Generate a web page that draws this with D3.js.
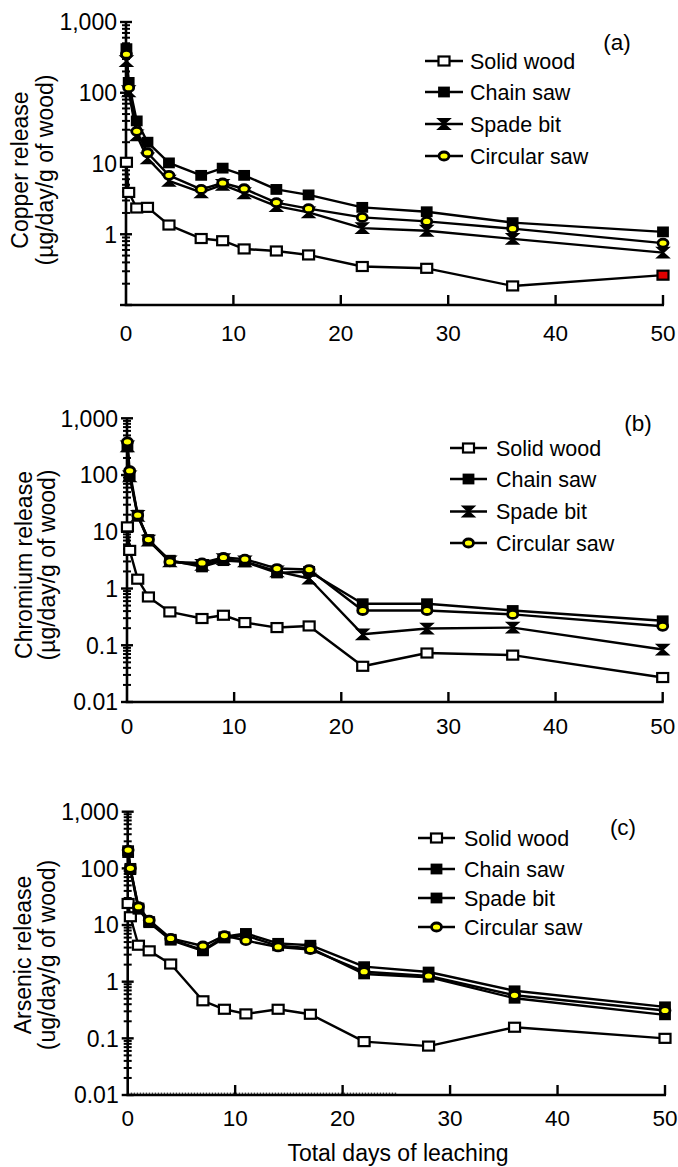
<!DOCTYPE html>
<html>
<head>
<meta charset="utf-8">
<script src="https://cdn.jsdelivr.net/npm/d3@7"></script>
<style>
  html, body { margin: 0; padding: 0; background: #fff; }
  svg { display: block; font-family: Arial, "Liberation Sans", sans-serif; }
</style>
</head>
<body>
<svg id="chart" width="678" height="1167"></svg>
<script>
// ---------- DATA ----------
const days = [0.04, 0.25, 1, 2, 4, 7, 9, 11, 14, 17, 22, 28, 36, 50];
const seriesNames = ["Solid wood", "Chain saw", "Spade bit", "Circular saw"];
const xTickValues = [0, 10, 20, 30, 40, 50];

// (a) Copper
const copperSolid    = [10.4, 3.9, 2.35, 2.4, 1.35, 0.87, 0.81, 0.62, 0.58, 0.51, 0.35, 0.33, 0.186, 0.264];
const copperChain    = [420, 140, 40, 20, 10.2, 6.8, 8.6, 6.8, 4.3, 3.6, 2.4, 2.08, 1.46, 1.08];
const copperSpade    = [280, 105, 25, 11.8, 5.7, 3.9, 5.0, 3.8, 2.5, 2.04, 1.22, 1.12, 0.86, 0.55];
const copperCircular = [350, 118, 28.5, 14.2, 6.8, 4.3, 5.3, 4.4, 2.8, 2.3, 1.73, 1.52, 1.2, 0.75];

// (b) Chromium
const chromSolid    = [12.2, 4.7, 1.46, 0.71, 0.387, 0.296, 0.338, 0.251, 0.205, 0.219, 0.0426, 0.073, 0.067, 0.027];
const chromChain    = [314, 100, 19.6, 7.3, 3.15, 2.4, 3.1, 2.95, 1.88, 2.0, 0.54, 0.54, 0.41, 0.27];
const chromSpade    = [320, 95, 19, 7.0, 3.0, 2.6, 3.3, 3.0, 2.0, 1.5, 0.156, 0.197, 0.205, 0.084];
const chromCircular = [385, 119, 19.6, 7.3, 2.94, 2.83, 3.52, 3.29, 2.25, 2.16, 0.41, 0.41, 0.35, 0.216];

// (c) Arsenic
const arsSolid    = [24, 14, 4.4, 3.5, 2.05, 0.46, 0.326, 0.27, 0.326, 0.266, 0.0875, 0.073, 0.157, 0.1];
const arsChain    = [205, 100, 20, 11.5, 5.6, 3.6, 6.2, 7.1, 4.75, 4.4, 1.84, 1.48, 0.69, 0.36];
const arsSpade    = [190, 95, 19, 11, 5.4, 3.5, 5.9, 6.5, 4.3, 3.9, 1.37, 1.2, 0.51, 0.26];
const arsCircular = [210, 100, 21, 12.2, 5.8, 4.26, 6.5, 5.3, 4.1, 3.7, 1.5, 1.26, 0.575, 0.31];

const yTicksA = [1, 10, 100, 1000];
const yTicksBC = [0.01, 0.1, 1, 10, 100, 1000];
const yTitlesA = ["Copper release", "(µg/day/g of wood)"];
const yTitlesB = ["Chromium release", "(µg/day/g of wood)"];
const yTitlesC = ["Arsenic release", "(ug/day/g of wood)"];
const panelLabels = ["(a)", "(b)", "(c)"];
const xTitle = "Total days of leaching";

// ---------- DRAW ----------
const svg = d3.select("#chart");
const fmt = d => d >= 1000 ? d3.format(",")(d) : String(d);

function marker(g, type, x, y, fill) {
  if (type === "openSquare") {
    g.append("rect").attr("x", x - 5.5).attr("y", y - 4.5).attr("width", 11).attr("height", 9)
      .attr("fill", fill || "#fff").attr("stroke", "#000").attr("stroke-width", 2.2);
  } else if (type === "square") {
    g.append("rect").attr("x", x - 5).attr("y", y - 4.5).attr("width", 10).attr("height", 9)
      .attr("fill", "#000").attr("stroke", "#000").attr("stroke-width", 1.8);
  } else if (type === "hourglass") {
    g.append("path").attr("d", `M${x-5.5},${y-5} H${x+5.5} L${x-5.5},${y+5} H${x+5.5} Z`)
      .attr("fill", "#000").attr("stroke", "#000").attr("stroke-width", 1.8).attr("stroke-linejoin", "miter");
  } else if (type === "circle") {
    g.append("ellipse").attr("cx", x).attr("cy", y).attr("rx", 5).attr("ry", 4)
      .attr("fill", "#ffff00").attr("stroke", "#000").attr("stroke-width", 2.8);
  }
}

function panel(cfg) {
  const g = svg.append("g");
  const x = d3.scaleLinear().domain([0, 50]).range([cfg.x0, cfg.x1]);
  const y = d3.scaleLog().domain(cfg.yDomain).range([cfg.yBottom, cfg.yTop]);

  g.append("line").attr("x1", cfg.x0).attr("x2", cfg.x0).attr("y1", cfg.yTop).attr("y2", cfg.yBottom)
    .attr("stroke", "#000").attr("stroke-width", 2.6);
  g.append("line").attr("x1", cfg.x0 - 1.3).attr("x2", cfg.x1 + 1).attr("y1", cfg.yBottom).attr("y2", cfg.yBottom)
    .attr("stroke", "#000").attr("stroke-width", 2.6);
  if (cfg.dotted) {
    g.append("line").attr("x1", cfg.x0).attr("x2", cfg.x0 + 270).attr("y1", cfg.yBottom - 1.8).attr("y2", cfg.yBottom - 1.8)
      .attr("stroke", "#000").attr("stroke-width", 1).attr("stroke-dasharray", "1.5,1.5");
  }

  const lo = Math.log10(cfg.yDomain[0]), hi = Math.log10(cfg.yDomain[1]);
  for (let e = Math.round(lo); e <= Math.round(hi); e++) {
    const v = Math.pow(10, e);
    g.append("line").attr("x1", cfg.x0 - 6).attr("x2", cfg.x0 + 6).attr("y1", y(v)).attr("y2", y(v))
      .attr("stroke", "#000").attr("stroke-width", 2.4);
    if (e < Math.round(hi)) {
      for (let k = 2; k <= 9; k++) {
        const mv = k * v;
        g.append("line").attr("x1", cfg.x0 - 4).attr("x2", cfg.x0 + 4).attr("y1", y(mv)).attr("y2", y(mv))
          .attr("stroke", "#000").attr("stroke-width", 2);
      }
    }
  }
  g.selectAll(".ylab").data(cfg.yTicks).enter().append("text")
    .attr("x", cfg.x0 - 9).attr("y", d => y(d)).attr("dy", "0.36em")
    .attr("text-anchor", "end").attr("font-size", 23).text(fmt);

  xTickValues.filter(d => d > 0).forEach(d => {
    g.append("line").attr("x1", x(d)).attr("x2", x(d)).attr("y1", cfg.yBottom).attr("y2", cfg.yBottom - 10)
      .attr("stroke", "#000").attr("stroke-width", 2.4);
  });
  g.selectAll(".xlab").data(xTickValues).enter().append("text")
    .attr("x", d => x(d)).attr("y", cfg.yBottom + cfg.xLabOff).attr("dy", "0.36em")
    .attr("text-anchor", "middle").attr("font-size", 22.5).text(d => d);

  cfg.yTitle.forEach((t, i) => {
    const cx = cfg.titleX[i];
    g.append("text").attr("transform", `translate(${cx},${cfg.titleY}) rotate(-90)`)
      .attr("dy", "0.36em").attr("text-anchor", "middle").attr("font-size", 23).text(t);
  });

  const types = cfg.types;
  const line = d3.line().x((d, i) => x(days[i])).y(d => y(d));
  cfg.series.forEach(s => {
    g.append("path").datum(s).attr("d", line).attr("fill", "none")
      .attr("stroke", "#000").attr("stroke-width", 2.4).attr("stroke-linejoin", "round");
  });
  cfg.series.forEach((s, si) => {
    s.forEach((v, i) => {
      let fill = null;
      if (cfg.redLast && si === 0 && i === s.length - 1) fill = "#e00000";
      marker(g, types[si], x(days[i]), y(v), fill);
    });
  });

  const L = cfg.legend;
  seriesNames.forEach((name, i) => {
    const ly = L.y[i];
    g.append("line").attr("x1", L.x1).attr("x2", L.x2).attr("y1", ly).attr("y2", ly)
      .attr("stroke", "#000").attr("stroke-width", 2.4);
    marker(g, types[i], (L.x1 + L.x2) / 2, ly, null);
    g.append("text").attr("x", L.tx).attr("y", ly).attr("dy", "0.36em")
      .attr("font-size", 21.5).text(name);
  });
  g.append("text").attr("x", cfg.label.x).attr("y", cfg.label.y).attr("dy", "0.36em")
    .attr("text-anchor", "middle").attr("font-size", 22.5).text(cfg.label.t);
}

panel({
  x0: 126, x1: 663, yTop: 22, yBottom: 305, yDomain: [0.1, 1000], yTicks: yTicksA,
  xLabOff: 28, yTitle: yTitlesA, titleX: [20, 45], titleY: 170,
  series: [copperSolid, copperChain, copperSpade, copperCircular],
  types: ["openSquare", "square", "hourglass", "circle"], redLast: true,
  legend: { x1: 425, x2: 463, tx: 470, y: [61, 92, 124, 156] },
  label: { x: 617, y: 42, t: panelLabels[0] }
});
panel({
  x0: 127, x1: 662.7, yTop: 418.3, yBottom: 702, yDomain: [0.01, 1000], yTicks: yTicksBC,
  xLabOff: 24, yTitle: yTitlesB, titleX: [24, 47], titleY: 565,
  series: [chromSolid, chromChain, chromSpade, chromCircular],
  types: ["openSquare", "square", "hourglass", "circle"], redLast: false,
  legend: { x1: 450, x2: 487, tx: 496, y: [448, 479, 511.5, 543] },
  label: { x: 638, y: 423, t: panelLabels[1] }
});
panel({
  x0: 127.7, x1: 665, yTop: 811.7, yBottom: 1095, yDomain: [0.01, 1000], yTicks: yTicksBC,
  xLabOff: 23, yTitle: yTitlesC, titleX: [23, 47], titleY: 955,
  series: [arsSolid, arsChain, arsSpade, arsCircular],
  types: ["openSquare", "square", "square", "circle"], redLast: false, dotted: true,
  legend: { x1: 418, x2: 455, tx: 464, y: [838, 869, 898, 927] },
  label: { x: 623, y: 827, t: panelLabels[2] }
});

svg.append("text").attr("x", 398).attr("y", 1153).attr("dy", "0.36em")
  .attr("text-anchor", "middle").attr("font-size", 23).text(xTitle);
</script>
</body>
</html>
